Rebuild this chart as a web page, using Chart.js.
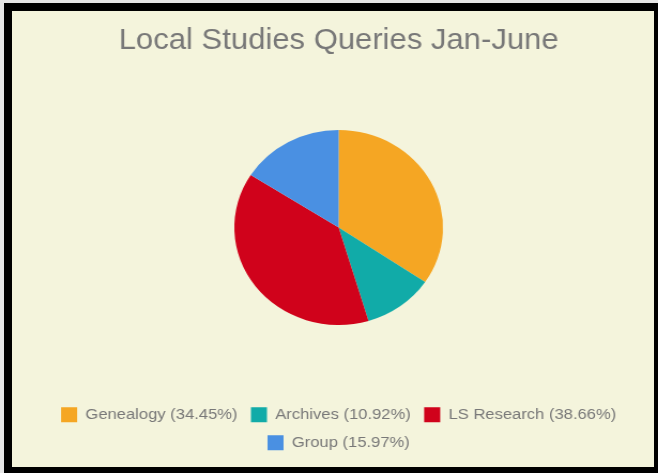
<!DOCTYPE html>
<html>
<head>
<meta charset="utf-8">
<script src="https://cdn.jsdelivr.net/npm/chart.js@4/dist/chart.umd.min.js"></script>
<style>
    html, body { margin: 0; padding: 0; width: 658px; height: 473px; overflow: hidden; background: #e6e6e6; }
    .frame { position: absolute; left: 4px; top: 3px; width: 654px; height: 470px; background: #000; }
    .panel { position: absolute; left: 12px; top: 11px; width: 642px; height: 456px; background: #f4f4dc; }
    #j_queries { position: absolute; left: 0; top: 0; transform: scaleX(1.07); transform-origin: 0 0; }
</style>
</head>
<body>
<div class="frame"></div>
<div class="panel"></div>
<canvas id="j_queries" width="615" height="473"></canvas>
<script>
var categorias = ["Genealogy", "Archives", "LS Research", "Group"];
var valores = [41, 13, 46, 19];
var cores = ["#f5a623", "#11aba8", "#d0021b", "#4a90e2"];
var titulo = "Local Studies Queries Jan-June";

var total = valores.reduce(function (a, b) { return a + b; }, 0);

var ctx = document.getElementById("j_queries");

new Chart(ctx, {
    type: "pie",
    data: {
        labels: categorias,
        datasets: [
            {
                data: valores,
                backgroundColor: cores,
                borderWidth: 0,
                hoverOffset: 0,
                offset: 0,
            },
        ],
    },
    options: {
        responsive: false,
        animation: false,
        devicePixelRatio: 1,
        radius: 97.5,
        layout: {
            padding: { left: 18, right: 0, top: 0, bottom: 12.5 },
        },
        plugins: {
            tooltip: { enabled: false },
            title: {
                display: true,
                text: titulo,
                color: "#787878",
                font: { family: "'Liberation Sans', Arial, sans-serif", size: 29, weight: "normal", lineHeight: 1.2 },
                padding: { top: 23.6, bottom: 2.1 },
            },
            legend: {
                position: "bottom",
                labels: {
                    color: "#787878",
                    font: { family: "'Liberation Sans', Arial, sans-serif", size: 15.5 },
                    boxWidth: 15,
                    boxHeight: 15,
                    padding: 12.5,
                    generateLabels: function (chart) {
                        return categorias.map(function (nome, i) {
                            return {
                                text: nome + " (" + (valores[i] / total * 100).toFixed(2) + "%)",
                                fillStyle: cores[i],
                                strokeStyle: cores[i],
                                lineWidth: 0,
                                fontColor: "#787878",
                                index: i,
                            };
                        });
                    },
                },
            },
        },
    },
});
</script>
</body>
</html>
